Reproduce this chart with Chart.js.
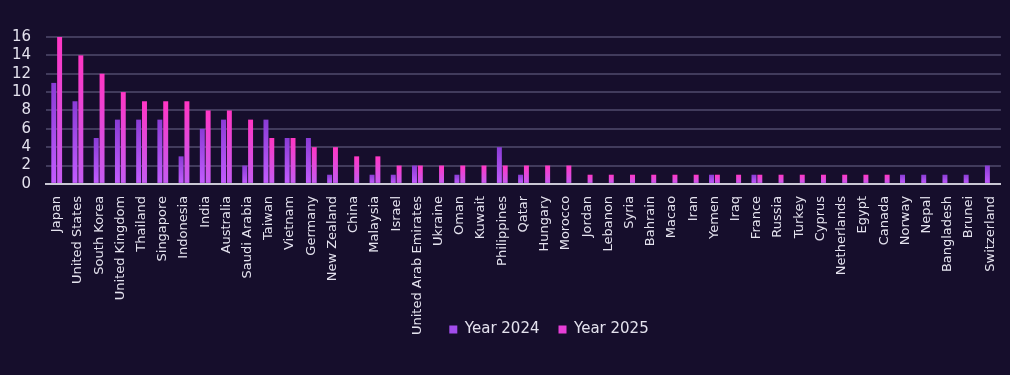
<!DOCTYPE html>
<html>
<head>
<meta charset="utf-8">
<script src="https://cdn.jsdelivr.net/npm/chart.js@4"></script>
<style>
  html, body { margin: 0; padding: 0; background: #160e2c; }
  #wrap { width: 1010px; height: 375px; }
</style>
</head>
<body>
<div id="wrap"><canvas id="bar-chart" width="1010" height="375"></canvas></div>
<script>
// data
const countries = ["Japan", "United States", "South Korea", "United Kingdom", "Thailand", "Singapore",
  "Indonesia", "India", "Australia", "Saudi Arabia", "Taiwan", "Vietnam", "Germany", "New Zealand",
  "China", "Malaysia", "Israel", "United Arab Emirates", "Ukraine", "Oman", "Kuwait", "Philippines",
  "Qatar", "Hungary", "Morocco", "Jordan", "Lebanon", "Syria", "Bahrain", "Macao", "Iran", "Yemen",
  "Iraq", "France", "Russia", "Turkey", "Cyprus", "Netherlands", "Egypt", "Canada", "Norway", "Nepal",
  "Bangladesh", "Brunei", "Switzerland"];
const year2024 = [11, 9, 5, 7, 7, 7, 3, 6, 7, 2, 7, 5, 5, 1, 0, 1, 1, 2, 0, 1, 0, 4, 1, 0, 0,
  0, 0, 0, 0, 0, 0, 1, 0, 1, 0, 0, 0, 0, 0, 0, 1, 1, 1, 1, 2];
const year2025 = [16, 14, 12, 10, 9, 9, 9, 8, 8, 7, 5, 5, 4, 4, 3, 3, 2, 2, 2, 2, 2, 2, 2, 2, 2,
  1, 1, 1, 1, 1, 1, 1, 1, 1, 1, 1, 1, 1, 1, 1, 0, 0, 0, 0, 0];
const seriesNames = ["Year 2024", "Year 2025"];
const yTicks = [0, 2, 4, 6, 8, 10, 12, 14, 16];

const font = "'DejaVu Sans', sans-serif";
const textColor = "#e4e2ee";
const legendColors = ["#a24cec", "#e63ed6"];

// gradient for each bar, from its own top down to the zero line
function barGradient(top, bottom) {
  return (ctx) => {
    const chart = ctx.chart;
    const y = chart.scales.y;
    if (!chart.chartArea || !y) return bottom;
    const v = ctx.raw || 0;
    const y0 = y.getPixelForValue(0);
    let y1 = y.getPixelForValue(v);
    if (!isFinite(y1) || y0 - y1 < 1) y1 = y0 - 9;
    const g = chart.ctx.createLinearGradient(0, y1, 0, y0);
    g.addColorStop(0, top);
    g.addColorStop(1, bottom);
    return g;
  };
}

// legend overlaps the label area and sits right of the middle in the original
const legendShift = {
  id: "legendShift",
  afterLayout(chart) {
    const lg = chart.legend;
    if (!lg) return;
    lg.left += 50;
    lg.right += 50;
    lg.top -= 36;
    lg.bottom -= 36;
  }
};

const dataset = {
  labels: countries,
  datasets: [
    {
      label: seriesNames[0],
      data: year2024,
      backgroundColor: barGradient("#8a3cd6", "#c35cff"),
      borderWidth: 0,
      categoryPercentage: 0.55,
      barPercentage: 0.85,
    }, {
      label: seriesNames[1],
      data: year2025,
      backgroundColor: barGradient("#ff36c4", "#c45cf2"),
      borderWidth: 0,
      categoryPercentage: 0.55,
      barPercentage: 0.85,
    }
  ],
};

const config = {
  type: "bar",
  data: dataset,
  plugins: [legendShift],
  options: {
    responsive: false,
    animation: false,
    layout: { padding: { top: 37, left: -3, right: 9, bottom: -8 } },
    plugins: {
      tooltip: { enabled: false },
      legend: {
        position: "bottom",
        labels: {
          color: textColor,
          font: { family: font, size: 15 },
          boxWidth: 8,
          boxHeight: 8,
          padding: 19,
          generateLabels: (chart) => {
            const items = Chart.defaults.plugins.legend.labels.generateLabels(chart);
            items.forEach((it, i) => { it.fillStyle = legendColors[i]; it.strokeStyle = legendColors[i]; });
            return items;
          },
        },
      },
    },
    scales: {
      x: {
        grid: { display: false },
        border: { color: "#c9c7d4", width: 2 },
        ticks: {
          color: textColor,
          font: { family: font, size: 13 },
          minRotation: 90,
          maxRotation: 90,
          autoSkip: false,
          padding: 4,
        },
      },
      y: {
        min: 0,
        max: 16,
        afterBuildTicks: (axis) => { axis.ticks = yTicks.map(v => ({ value: v })); },
        grid: { color: "rgba(70, 64, 98, 0.9)", lineWidth: 2, drawTicks: false, tickLength: 0 },
        border: { display: false },
        ticks: {
          color: textColor,
          font: { family: font, size: 15 },
          autoSkip: false,
          padding: 15,
        },
      },
    },
  },
};

const barChart = new Chart(document.getElementById("bar-chart").getContext("2d"), config);
</script>
</body>
</html>
